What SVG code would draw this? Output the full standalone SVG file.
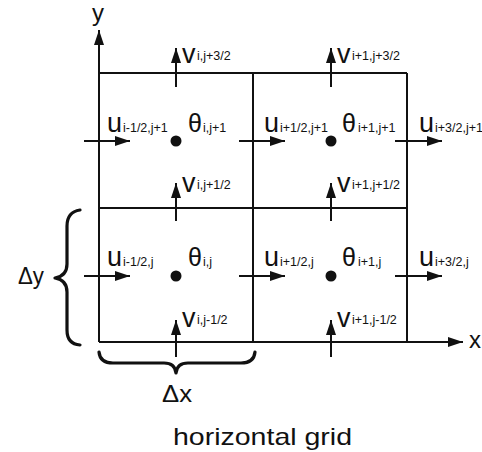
<svg xmlns="http://www.w3.org/2000/svg" width="482" height="452" viewBox="0 0 482 452">
<defs>
<marker id="ah" markerUnits="userSpaceOnUse" markerWidth="16" markerHeight="12" refX="15" refY="5" orient="auto">
<path d="M0,0 L15,5 L0,10 Z" fill="#111"/>
</marker>
<style>
.ln{stroke:#111;stroke-width:2;fill:none}
.ar{stroke:#111;stroke-width:2;fill:none;marker-end:url(#ah)}
.br{stroke:#111;stroke-width:3.2;fill:none;stroke-linecap:round;stroke-linejoin:round}
text{font-family:"Liberation Sans",Arial,sans-serif;fill:#111}
.m{font-size:27px}
.t{font-size:25px}
.s{font-size:12.5px}
.ax{font-size:24px}
.cap{font-size:24px}
</style>
</defs>
<rect width="482" height="452" fill="#fff"/>
<g id="grid">
<line class="ln" x1="99" y1="73" x2="407" y2="73"/>
<line class="ln" x1="99" y1="208" x2="407" y2="208"/>
<line class="ln" x1="253" y1="73" x2="253" y2="342"/>
<line class="ln" x1="407" y1="73" x2="407" y2="342"/>
</g>
<g id="axes">
<line class="ar" x1="99" y1="342" x2="99" y2="30"/>
<line class="ar" x1="99" y1="342" x2="463" y2="342"/>
<text class="ax" x="92" y="21">y</text>
<text class="ax" x="469" y="348">x</text>
</g>
<g id="connectors">
<line class="ar" x1="176" y1="87" x2="176" y2="48"/>
<line class="ar" x1="331" y1="87" x2="331" y2="48"/>
<line class="ar" x1="176" y1="221" x2="176" y2="183"/>
<line class="ar" x1="331" y1="221" x2="331" y2="183"/>
<line class="ar" x1="176" y1="357" x2="176" y2="320"/>
<line class="ar" x1="331" y1="357" x2="331" y2="320"/>
<line class="ar" x1="84" y1="141" x2="130" y2="141"/>
<line class="ar" x1="239" y1="141" x2="285" y2="141"/>
<line class="ar" x1="395" y1="141" x2="442" y2="141"/>
<line class="ar" x1="84" y1="276" x2="130" y2="276"/>
<line class="ar" x1="239" y1="276" x2="285" y2="276"/>
<line class="ar" x1="395" y1="276" x2="442" y2="276"/>
</g>
<g id="cell-i-j1">
<circle cx="176" cy="141" r="5.5" fill="#111"/>
<text class="m" x="107" y="132">u<tspan class="s" x="123">i-1/2,j+1</tspan></text>
<text class="t" x="188" y="132">θ<tspan class="s" x="203">i,j+1</tspan></text>
<text class="m" x="182" y="63">v<tspan class="s" x="197" y="60">i,j+3/2</tspan></text>
</g>
<g id="cell-i1-j1">
<circle cx="331" cy="141" r="5.5" fill="#111"/>
<text class="m" x="264" y="132">u<tspan class="s" x="280">i+1/2,j+1</tspan></text>
<text class="t" x="342" y="132">θ<tspan class="s" x="358">i+1,j+1</tspan></text>
<text class="m" x="337" y="63">v<tspan class="s" x="352" y="60">i+1,j+3/2</tspan></text>
<text class="m" x="419" y="132">u<tspan class="s" x="435">i+3/2,j+1</tspan></text>
</g>
<g id="cell-i-j">
<circle cx="176" cy="276" r="5.5" fill="#111"/>
<text class="m" x="107" y="266">u<tspan class="s" x="123">i-1/2,j</tspan></text>
<text class="t" x="188" y="266">θ<tspan class="s" x="203">i,j</tspan></text>
<text class="m" x="182" y="192">v<tspan class="s" x="197" y="189">i,j+1/2</tspan></text>
<text class="m" x="182" y="327">v<tspan class="s" x="197" y="324">i,j-1/2</tspan></text>
</g>
<g id="cell-i1-j">
<circle cx="331" cy="276" r="5.5" fill="#111"/>
<text class="m" x="264" y="266">u<tspan class="s" x="280">i+1/2,j</tspan></text>
<text class="t" x="342" y="266">θ<tspan class="s" x="358">i+1,j</tspan></text>
<text class="m" x="337" y="192">v<tspan class="s" x="352" y="189">i+1,j+1/2</tspan></text>
<text class="m" x="337" y="327">v<tspan class="s" x="352" y="324">i+1,j-1/2</tspan></text>
<text class="m" x="419" y="266">u<tspan class="s" x="435">i+3/2,j</tspan></text>
</g>
<g id="dy">
<path class="br" d="M80,210 Q67,212 67,226 L67,264 Q67,276 55,278 Q67,280 67,292 L67,330 Q67,344 80,345"/>
<text class="ax" x="18" y="284" textLength="26" lengthAdjust="spacingAndGlyphs">Δy</text>
</g>
<g id="dx">
<path class="br" d="M99,352 Q100,363 113,363 L164,363 Q175,363 176,373 Q177,363 188,363 L241,363 Q254,363 255,352"/>
<text class="ax" x="162" y="402" textLength="30" lengthAdjust="spacingAndGlyphs">Δx</text>
</g>
<text class="cap" x="173" y="445" textLength="179" lengthAdjust="spacingAndGlyphs">horizontal grid</text>
</svg>
